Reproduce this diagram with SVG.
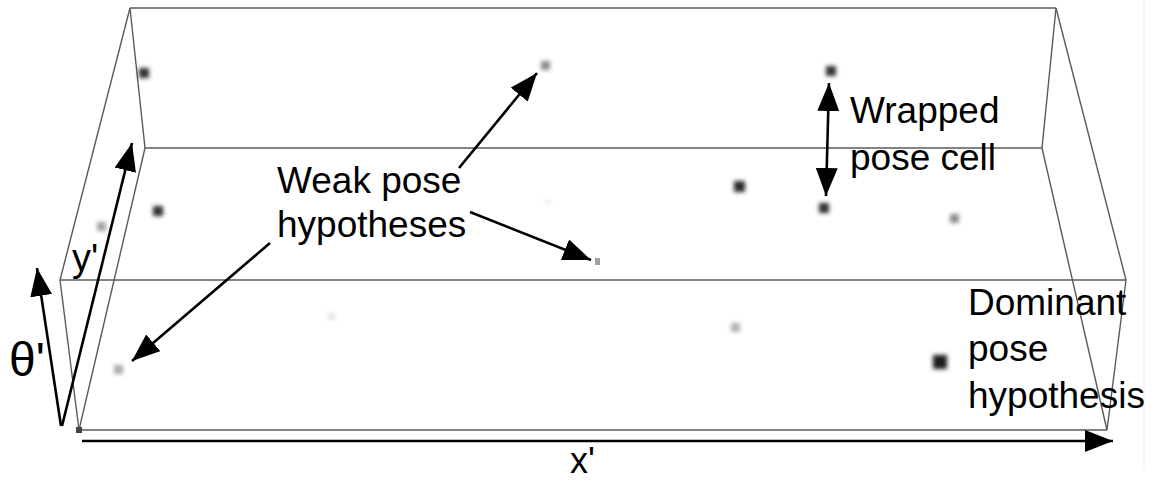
<svg xmlns="http://www.w3.org/2000/svg" width="1154" height="480" viewBox="0 0 1154 480">
  <style>
    .box { stroke: #5a5a5a; stroke-width: 1.4; fill: none; }
    .arrow { stroke: #000; stroke-width: 2.6; fill: none; }
    .lbl { font-family: "Liberation Sans", Arial, sans-serif; font-size: 37px; fill: #000; }
  </style>
  <defs>
    <marker id="head" viewBox="0 0 28 22" refX="28" refY="11" markerWidth="28" markerHeight="22" markerUnits="userSpaceOnUse" orient="auto-start-reverse">
      <path d="M0,0 L28,11 L0,22 z" fill="#000"/>
    </marker>
    <filter id="blur" x="-100%" y="-100%" width="300%" height="300%">
      <feGaussianBlur stdDeviation="2.2"/>
    </filter>
  </defs>
  <rect width="1154" height="480" fill="#fff"/>
  <line x1="1144" y1="0" x2="1144" y2="468" stroke="#ececec" stroke-width="1"/>

  <g id="box">
    <line class="box" x1="130" y1="8" x2="1056" y2="8"/>
    <line class="box" x1="145" y1="148" x2="1042" y2="148"/>
    <line class="box" x1="60" y1="280" x2="1126" y2="280"/>
    <line class="box" x1="79" y1="430" x2="1107" y2="430"/>
    <line class="box" x1="130" y1="8" x2="145" y2="148"/>
    <line class="box" x1="130" y1="8" x2="60" y2="280"/>
    <line class="box" x1="60" y1="280" x2="79" y2="430"/>
    <line class="box" x1="145" y1="148" x2="79" y2="430"/>
    <line class="box" x1="1056" y1="8" x2="1042" y2="148"/>
    <line class="box" x1="1056" y1="8" x2="1126" y2="280"/>
    <line class="box" x1="1126" y1="280" x2="1107" y2="430"/>
    <line class="box" x1="1042" y1="148" x2="1107" y2="430"/>
    <rect x="76" y="427" width="6" height="6" fill="#444"/>
  </g>

  <g id="cells" filter="url(#blur)">
    <rect x="139" y="68" width="10" height="10" fill="#2e2e2e"/>
    <rect x="541" y="61" width="9" height="9" fill="#8a8a8a"/>
    <rect x="826" y="66" width="10" height="10" fill="#2e2e2e"/>
    <rect x="734" y="181" width="11" height="11" fill="#2a2a2a"/>
    <rect x="819" y="203" width="10" height="10" fill="#2e2e2e"/>
    <rect x="950" y="214" width="9" height="9" fill="#8a8a8a"/>
    <rect x="153" y="206" width="10" height="10" fill="#2e2e2e"/>
    <rect x="97" y="222" width="9" height="9" fill="#a0a0a0"/>
    <rect x="545" y="199" width="5" height="6" fill="#ececec"/>
    <rect x="328" y="313" width="7" height="7" fill="#e4e4e4"/>
    <rect x="731" y="323" width="9" height="9" fill="#b0b0b0"/>
    <rect x="933" y="355" width="14" height="14" fill="#1a1a1a"/>
    <rect x="114" y="365" width="9" height="9" fill="#a8a8a8"/>
  </g>
  <rect x="595" y="258" width="5" height="7" fill="#a0a0a0"/>

  <g id="connectors">
    <line class="arrow" x1="82" y1="441" x2="1113" y2="441" marker-end="url(#head)"/>
    <line class="arrow" x1="61" y1="426" x2="37" y2="268" marker-end="url(#head)"/>
    <line class="arrow" x1="62" y1="426" x2="132" y2="143" marker-end="url(#head)"/>
    <line class="arrow" x1="459" y1="168" x2="537" y2="73" marker-end="url(#head)"/>
    <line class="arrow" x1="470" y1="212" x2="591" y2="260" marker-end="url(#head)"/>
    <line class="arrow" x1="270" y1="243" x2="132" y2="361" marker-end="url(#head)"/>
    <line class="arrow" x1="829" y1="83" x2="826" y2="196" marker-start="url(#head)" marker-end="url(#head)"/>
  </g>

  <g id="labels">
    <text class="lbl" x="72" y="271" style="font-size:38px">y'</text>
    <text class="lbl" x="9" y="376" style="font-size:48px">θ'</text>
    <text class="lbl" x="570" y="473" style="font-size:36px">x'</text>
    <text class="lbl" x="277" y="193">Weak pose</text>
    <text class="lbl" x="277" y="237">hypotheses</text>
    <text class="lbl" x="850" y="123">Wrapped</text>
    <text class="lbl" x="850" y="170">pose cell</text>
    <text class="lbl" x="968" y="315">Dominant</text>
    <text class="lbl" x="968" y="361">pose</text>
    <text class="lbl" x="968" y="408">hypothesis</text>
  </g>
</svg>
